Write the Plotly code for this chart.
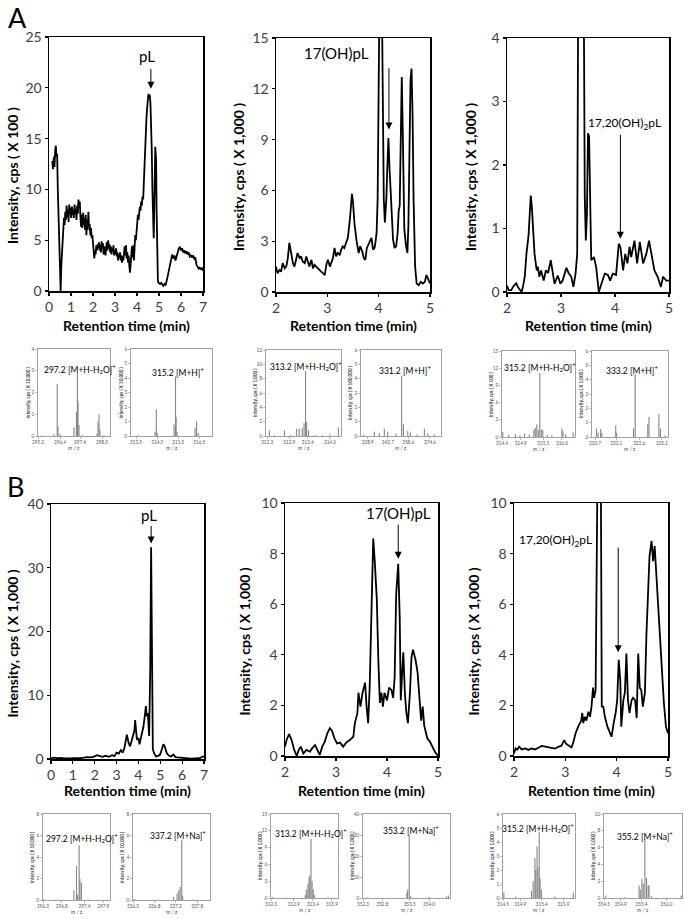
import plotly.graph_objects as go

W, H = 684, 919

# ---------------- Chromatogram data ----------------
a1_t = [0.15,0.18,0.22,0.25,0.28,0.31,0.34,0.37,0.40,0.44,
        0.47,0.50,0.53,0.56,0.60,0.64,0.68,0.71,0.74,0.77,
        0.80,0.83,0.86,0.89,0.92,0.95,0.98,1.01,1.04,1.07,
        1.10,1.13,1.16,1.19,1.22,1.25,1.28,1.31,1.34,1.37,
        1.40,1.43,1.46,1.49,1.52,1.55,1.58,1.61,1.64,1.67,
        1.70,1.73,1.76,1.79,1.82,1.85,1.88,1.91,1.94,1.97,
        2.00,2.03,2.06,2.09,2.12,2.15,2.18,2.21,2.24,2.27,
        2.30,2.33,2.36,2.39,2.42,2.45,2.48,2.51,2.54,2.57,
        2.60,2.63,2.66,2.69,2.72,2.75,2.78,2.81,2.84,2.87,
        2.90,2.93,2.96,2.99,3.02,3.05,3.08,3.11,3.14,3.17,
        3.20,3.23,3.26,3.29,3.32,3.35,3.38,3.41,3.44,3.47,
        3.50,3.53,3.56,3.59,3.62,3.65,3.68,3.71,3.74,3.77,
        3.80,3.83,3.86,3.89,3.92,3.95,3.98,4.01,4.04,4.07,
        4.10,4.13,4.16,4.19,4.22,4.25,4.28,4.31,4.34,4.37,
        4.40,4.43,4.46,4.49,4.52,4.55,4.58,4.61,4.64,4.67,
        4.70,4.73,4.76,4.78,4.80,4.83,4.85,4.87,4.89,4.92,
        4.95,4.98,5.05,5.10,5.15,5.20,5.25,5.30,5.35,5.40,
        5.45,5.50,5.55,5.60,5.65,5.70,5.75,5.80,5.85,5.90,
        5.95,6.00,6.05,6.10,6.15,6.20,6.25,6.30,6.35,6.40,
        6.45,6.50,6.55,6.60,6.65,6.70,6.75,6.80,6.85,6.90,
        6.95,7.00]
a1_i = [12.8,12.0,13.2,12.2,13.8,14.3,13.2,13.5,10.0,6.5,
        3.0,0.5,0.0,2.5,4.5,5.8,7.2,6.5,7.8,7.0,
        8.4,7.3,8.0,6.8,8.5,7.6,8.2,7.2,8.3,7.5,
        8.0,7.2,8.5,7.6,8.1,7.0,8.4,7.6,9.0,8.2,
        8.8,7.2,6.3,7.5,6.2,7.7,6.5,7.2,6.0,7.5,
        5.5,7.0,6.0,7.8,6.3,6.6,5.5,6.2,5.2,5.5,
        4.5,4.0,3.2,4.0,3.6,4.5,4.0,4.6,4.2,4.8,
        4.0,4.5,3.8,4.9,4.2,4.7,3.6,4.4,4.0,3.5,
        4.3,4.8,4.0,5.0,4.2,4.6,3.8,4.4,3.6,4.2,
        3.9,4.5,3.5,4.0,3.6,4.2,3.4,3.8,3.0,3.6,
        3.3,3.8,3.0,3.5,2.8,3.4,3.0,3.6,4.4,3.5,
        4.5,3.2,3.8,2.8,3.5,2.5,1.8,2.6,3.5,4.4,
        3.3,4.5,3.0,4.0,5.5,5.0,6.2,6.8,7.5,7.0,
        7.8,8.3,7.9,8.8,8.4,9.3,9.0,11.0,13.0,15.0,
        15.5,17.0,18.0,18.8,19.4,19.0,19.3,18.5,17.0,14.0,
        10.0,7.0,5.2,7.5,11.5,14.2,13.5,12.8,8.0,3.0,
        1.0,0.8,0.7,0.8,0.6,0.5,0.7,0.6,1.0,1.5,
        2.0,2.6,3.3,3.6,3.2,3.5,3.0,3.6,3.8,4.2,
        4.3,4.0,4.2,3.8,4.0,3.7,3.9,3.6,3.8,3.4,
        3.5,3.3,3.5,3.2,3.3,2.6,2.4,2.2,2.3,2.1,
        2.3,2.0]

a2_t = [2.00,2.03,2.07,2.10,2.13,2.17,2.20,2.23,2.26,2.29,
        2.33,2.36,2.39,2.42,2.46,2.49,2.52,2.56,2.59,2.62,
        2.65,2.69,2.72,2.75,2.78,2.82,2.85,2.88,2.92,2.95,
        2.98,3.01,3.05,3.08,3.11,3.14,3.17,3.20,3.24,3.27,
        3.30,3.33,3.37,3.40,3.44,3.46,3.48,3.50,3.53,3.57,
        3.61,3.64,3.68,3.71,3.74,3.77,3.80,3.83,3.86,3.89,
        3.92,3.94,3.96,3.98,4.00,4.03,4.06,4.08,4.10,4.12,
        4.15,4.17,4.19,4.21,4.23,4.25,4.28,4.31,4.34,4.37,
        4.39,4.41,4.43,4.45,4.47,4.50,4.53,4.56,4.58,4.60,
        4.62,4.64,4.66,4.68,4.71,4.74,4.78,4.82,4.86,4.90,
        4.93,4.96,5.00]
a2_i = [1.5,1.1,1.3,1.2,1.7,1.4,1.5,2.0,2.9,2.3,
        1.7,1.5,2.0,2.3,2.0,2.1,1.8,1.7,2.1,1.8,
        1.5,1.9,1.4,1.6,1.5,1.4,1.3,1.2,1.1,1.0,
        1.6,1.9,1.5,1.7,2.0,2.6,2.1,2.3,2.2,2.5,
        2.7,2.6,2.9,3.2,4.3,5.2,5.8,5.3,4.0,3.0,
        2.3,2.7,2.4,2.0,1.9,2.6,2.8,3.0,3.2,2.5,
        2.6,3.0,3.5,5.5,14.0,22.0,18.0,9.0,5.5,4.1,
        5.5,7.5,9.1,7.4,6.0,5.5,3.1,2.6,2.7,3.5,
        4.8,5.1,10.8,12.7,9.4,3.7,2.8,2.3,4.0,8.0,
        12.5,13.2,10.5,5.5,1.5,0.5,0.4,0.6,0.5,0.6,
        1.0,0.8,0.5]

a3_t = [2.00,2.03,2.08,2.11,2.17,2.20,2.27,2.30,2.33,2.36,
        2.40,2.42,2.44,2.46,2.48,2.51,2.55,2.57,2.60,2.63,
        2.68,2.72,2.76,2.81,2.85,2.88,2.94,2.99,3.03,3.07,
        3.10,3.14,3.19,3.23,3.27,3.30,3.32,3.37,3.42,3.44,
        3.46,3.48,3.50,3.52,3.54,3.56,3.61,3.65,3.70,3.75,
        3.81,3.87,3.91,3.96,4.02,4.07,4.10,4.15,4.19,4.23,
        4.27,4.30,4.33,4.36,4.41,4.46,4.52,4.58,4.63,4.68,
        4.73,4.79,4.85,4.89,4.95,5.00]
a3_i = [0.10,0.03,0.03,0.08,0.14,0.08,0.00,0.10,0.25,0.60,
        0.90,1.20,1.52,1.34,1.10,0.60,0.34,0.40,0.24,0.34,
        0.18,0.34,0.30,0.50,0.29,0.13,0.26,0.13,0.18,0.30,
        0.38,0.30,0.24,0.08,0.29,0.60,5.00,9.00,5.00,1.50,
        0.81,1.23,2.50,2.45,1.34,0.50,0.55,0.40,0.00,0.13,
        0.29,0.27,0.18,0.29,0.27,0.76,0.71,0.34,0.60,0.45,
        0.71,0.55,0.70,0.81,0.45,0.79,0.45,0.60,0.81,0.60,
        0.34,0.24,0.08,0.24,0.18,0.18]

b1_t = [0.00,0.15,0.30,0.45,0.60,0.75,0.90,1.05,1.20,1.35,
        1.50,1.65,1.80,1.95,2.10,2.20,2.35,2.50,2.65,2.80,
        2.90,3.00,3.10,3.20,3.28,3.35,3.42,3.47,3.51,3.55,
        3.62,3.70,3.77,3.82,3.85,3.89,3.93,4.00,4.05,4.10,
        4.17,4.23,4.30,4.34,4.38,4.43,4.49,4.54,4.58,4.62,
        4.66,4.72,4.80,4.90,4.99,5.07,5.14,5.19,5.25,5.30,
        5.40,5.50,5.60,5.70,5.80,6.00,6.20,6.40,6.60,6.80,
        6.95,7.00]
b1_i = [0.10,0.20,0.12,0.18,0.10,0.15,0.10,0.12,0.08,0.15,
        0.20,0.30,0.25,0.35,0.60,0.45,0.35,0.50,0.35,0.60,
        0.45,1.00,0.85,1.40,1.00,1.60,2.60,3.80,3.20,2.50,
        2.00,3.00,3.60,4.50,6.10,4.50,3.00,3.30,2.30,3.10,
        4.30,5.10,7.00,8.30,6.70,7.20,3.60,14.0,33.2,6.0,
        1.5,0.9,0.4,0.5,0.7,1.5,2.3,2.1,1.4,0.9,
        0.5,0.4,0.7,0.3,0.25,0.15,0.10,0.05,0.08,0.12,
        0.40,0.35]

b2_t = [2.00,2.03,2.08,2.13,2.18,2.23,2.27,2.31,2.36,2.42,
        2.49,2.53,2.59,2.64,2.68,2.73,2.78,2.83,2.88,2.92,
        2.97,3.02,3.08,3.14,3.20,3.27,3.34,3.37,3.42,3.44,
        3.48,3.52,3.57,3.60,3.63,3.66,3.70,3.73,3.76,3.80,
        3.83,3.86,3.89,3.92,3.95,4.00,4.04,4.09,4.12,4.15,
        4.18,4.22,4.25,4.27,4.30,4.32,4.35,4.38,4.41,4.45,
        4.48,4.51,4.56,4.60,4.64,4.67,4.70,4.73,4.79,4.84,
        4.89,4.94,5.00]
b2_i = [0.37,0.63,0.87,0.63,0.24,0.00,0.24,0.37,0.10,0.24,
        0.17,0.30,0.43,0.24,0.04,0.37,0.57,0.90,1.10,1.00,
        0.70,0.50,0.53,0.37,0.53,0.63,0.76,1.30,1.70,2.50,
        1.95,2.50,2.90,1.95,1.30,2.70,5.80,8.60,7.70,6.20,
        3.80,2.10,2.50,1.95,2.50,2.20,2.70,2.60,2.30,3.10,
        6.40,7.60,5.40,2.20,3.40,4.10,2.50,1.70,1.30,2.50,
        3.90,4.20,3.80,3.30,2.20,1.40,1.95,1.20,0.70,0.57,
        0.37,0.17,0.00]

b3_t = [2.00,2.03,2.06,2.10,2.15,2.22,2.28,2.34,2.41,2.48,
        2.54,2.61,2.67,2.74,2.80,2.87,2.92,2.98,3.01,3.05,
        3.12,3.15,3.20,3.25,3.31,3.33,3.35,3.38,3.41,3.45,
        3.48,3.51,3.54,3.56,3.59,3.63,3.66,3.69,3.71,3.74,
        3.77,3.82,3.87,3.90,3.95,3.98,4.01,4.04,4.07,4.09,
        4.13,4.16,4.19,4.22,4.25,4.29,4.32,4.36,4.39,4.42,
        4.45,4.48,4.51,4.55,4.58,4.61,4.64,4.68,4.71,4.74,
        4.77,4.81,4.84,4.88,4.92,4.96,5.00]
b3_i = [0.10,0.30,0.25,0.37,0.26,0.30,0.24,0.30,0.26,0.34,
        0.40,0.37,0.34,0.30,0.29,0.37,0.40,0.63,0.50,0.43,
        0.34,0.50,0.90,1.16,1.40,1.70,1.30,1.55,1.40,1.75,
        1.55,1.95,2.70,2.30,2.60,12.0,18.0,12.0,1.95,1.95,
        1.55,1.16,0.90,0.76,1.40,1.70,2.20,3.80,3.00,1.16,
        2.20,2.50,4.05,2.20,1.70,2.20,2.30,2.20,1.50,4.05,
        2.70,2.60,1.95,2.50,4.80,6.40,7.90,8.50,7.70,8.30,
        7.20,6.20,4.80,3.70,2.10,1.16,0.90]

# ---------------- Mass spectra (insets) ----------------
a1l_mz = [295.5,296.1,296.26,296.3,296.4,297.1,297.22,297.27,297.3,297.35,297.5,298.25,298.3,298.35,298.4,298.6]
a1l_v  = [0.03,0.08,2.4,0.45,0.1,0.4,1.1,2.9,1.6,0.5,0.05,0.1,0.65,1.0,0.3,0.05]
a1r_mz = [313.6,314.4,314.46,314.5,315.3,315.37,315.4,315.45,316.3,316.37,316.45]
a1r_v  = [0.05,0.3,1.85,0.2,0.8,4.1,1.3,0.3,0.55,1.0,0.2]
a2l_mz = [312.36,312.5,312.77,312.95,313.1,313.17,313.25,313.3,313.34,313.37,313.42,313.6,313.8,314.0,314.23]
a2l_v  = [0.75,0.1,0.8,0.15,1.0,1.0,1.1,1.8,9.1,2.0,0.8,0.15,0.1,0.2,1.2]
a2r_mz = [326.0,333.8,337.5,341.1,343.6,349.7,353.8,355.1,358.3,360.2,365.0,370.5,373.0,377.8]
a2r_v  = [0.1,0.3,0.2,0.5,0.3,0.15,4.2,0.85,0.35,0.25,0.1,0.5,0.2,0.1]
a3l_mz = [314.42,314.58,314.76,314.88,315.0,315.13,315.25,315.29,315.33,315.37,315.41,315.45,315.49,315.61,315.73,316.0,316.03,316.1,316.3]
a3l_v  = [0.9,0.4,0.5,0.3,0.6,0.4,1.3,1.6,2.2,1.2,11.2,1.3,1.2,0.4,0.3,1.5,1.0,0.5,0.8]
a3r_mz = [330.8,330.9,331.07,331.14,332.06,332.12,333.23,333.34,334.17,334.25,334.9,335.0,335.3]
a3r_v  = [0.6,0.3,0.55,0.3,0.8,0.3,0.6,4.4,0.9,1.4,1.6,0.6,0.1]
b1l_mz = [296.32,296.6,297.12,297.19,297.22,297.26,297.28,297.32,297.5]
b1l_v  = [0.1,0.05,0.9,3.2,0.5,5.1,2.0,1.6,0.05]
b1r_mz = [336.34,337.25,337.33,337.37,337.4,337.44,337.46,337.7]
b1r_v  = [0.1,0.3,0.6,0.9,1.2,5.6,0.4,0.05]
b2l_mz = [312.35,312.7,313.2,313.23,313.27,313.3,313.32,313.35,313.38,313.41,313.44,313.8]
b2l_v  = [0.2,0.1,0.5,1.5,2.5,3.6,4.0,10.6,3.0,1.5,0.5,0.1]
b2r_mz = [352.4,353.43,353.45,353.49,353.52,354.0,354.45,354.5]
b2r_v  = [0.3,2.5,4.0,29.7,0.8,0.5,0.8,1.2]
b3l_mz = [314.52,314.8,315.16,315.2,315.24,315.26,315.29,315.31,315.34,315.36,315.39,315.7,316.13]
b3l_v  = [0.4,0.1,0.5,1.2,2.85,2.0,3.7,2.2,4.7,1.4,0.6,0.1,0.4]
b3r_mz = [354.54,355.0,355.34,355.37,355.41,355.44,355.48,355.52,355.56,355.58,355.64,356.35]
b3r_v  = [0.3,0.1,1.5,1.0,2.3,1.7,7.0,2.4,1.5,1.5,0.2,0.3]

FONT = "Lato"

def fx(px):
    return px / W

def fy(py):
    return 1 - py / H

fig = go.Figure()
layout = dict(width=W, height=H, margin=dict(l=0, r=0, t=0, b=0),
              paper_bgcolor="white", plot_bgcolor="white", showlegend=False,
              font=dict(family=FONT, color="black"))
annotations = []

# ---------------- Main chromatograms ----------------
main = [
    (a1_t, a1_i, (49, 203), (37, 291), [0, 7], [0, 25], 5, "Intensity, cps ( X 100 )", 12, 126, 325),
    (a2_t, a2_i, (276, 430), (38, 292), [2, 5], [0, 15], 3, "Intensity, cps ( X 1,000 )", 238, 353, 325),
    (a3_t, a3_i, (507, 669), (38, 292), [2, 5], [0, 4], 1, "Intensity, cps ( X 1,000 )", 470, 588, 325),
    (b1_t, b1_i, (51, 204), (504, 759), [0, 7], [0, 40], 10, "Intensity, cps ( X 1,000 )", 12, 127, 790),
    (b2_t, b2_i, (285, 438), (503, 756), [2, 5], [0, 10], 2, "Intensity, cps ( X 1,000 )", 244, 361, 790),
    (b3_t, b3_i, (514, 668), (503, 756), [2, 5], [0, 10], 2, "Intensity, cps ( X 1,000 )", 473, 591, 790),
]

for k, (t, v, xp, yp, xr, yr, dt, ytitle, ytx, xtx, xty) in enumerate(main, start=1):
    xa = "x" if k == 1 else f"x{k}"
    ya = "y" if k == 1 else f"y{k}"
    fig.add_trace(go.Scatter(x=t, y=v, mode="lines", xaxis=xa, yaxis=ya,
                             line=dict(color="black", width=1.8), hoverinfo="skip"))
    common = dict(showline=True, linecolor="black", linewidth=1.5, mirror=True,
                  ticks="outside", ticklen=3, tickwidth=1.2, tickcolor="black",
                  tickfont=dict(family=FONT, size=14, color="#404040"),
                  showgrid=False, zeroline=False, automargin=False, fixedrange=True)
    layout["xaxis" if k == 1 else f"xaxis{k}"] = dict(
        domain=[fx(xp[0]), fx(xp[1])], range=xr, dtick=1, tick0=0,
        anchor=ya, **common)
    layout["yaxis" if k == 1 else f"yaxis{k}"] = dict(
        domain=[fy(yp[1]), fy(yp[0])], range=yr, dtick=dt, tick0=0,
        anchor=xa, **common)
    annotations.append(dict(text=f"<b>{ytitle}</b>", x=fx(ytx), y=fy((yp[0] + yp[1]) / 2 + 12),
                            xref="paper", yref="paper", textangle=-90, showarrow=False,
                            font=dict(family=FONT, size=14, color="black"),
                            xanchor="center", yanchor="middle"))
    annotations.append(dict(text="<b>Retention time (min)</b>", x=fx(xtx), y=fy(xty),
                            xref="paper", yref="paper", showarrow=False,
                            font=dict(family=FONT, size=14, color="black"),
                            xanchor="center", yanchor="middle"))

# Peak labels and arrows (data coordinates)
labels = [
    (1, "pL", 4.45, 23.1, 15),
    (2, "17(OH)pL", 3.17, 14.1, 15),
    (3, "17,20(OH)<sub>2</sub>pL", 4.17, 2.65, 12),
    (4, "pL", 4.5, 38.2, 15),
    (5, "17(OH)pL", 4.22, 9.6, 15),
    (6, "17,20(OH)<sub>2</sub>pL", 2.8, 8.5, 12),
]
arrows = [
    (1, 4.63, 22.0, 19.9),
    (2, 4.20, 13.3, 9.6),
    (3, 4.10, 2.5, 0.84),
    (4, 4.58, 36.8, 33.8),
    (5, 4.22, 9.2, 7.8),
    (6, 4.03, 8.3, 4.1),
]
for k, txt, x, y, fs in labels:
    xa = "x" if k == 1 else f"x{k}"
    ya = "y" if k == 1 else f"y{k}"
    annotations.append(dict(text=txt, x=x, y=y, xref=xa, yref=ya, showarrow=False,
                            font=dict(family=FONT, size=fs, color="black"),
                            xanchor="center", yanchor="middle"))
for k, x, y0, y1 in arrows:
    xa = "x" if k == 1 else f"x{k}"
    ya = "y" if k == 1 else f"y{k}"
    annotations.append(dict(text="", x=x, y=y1, ax=x, ay=y0, xref=xa, yref=ya,
                            axref=xa, ayref=ya, showarrow=True, arrowhead=2,
                            arrowsize=1.4, arrowwidth=1, arrowcolor="black", standoff=0))

# Panel letters
annotations.append(dict(text="A", x=fx(17), y=fy(-1), xref="paper", yref="paper", showarrow=False,
                        font=dict(family=FONT, size=27, color="black"), xanchor="center", yanchor="top"))
annotations.append(dict(text="B", x=fx(15), y=fy(468), xref="paper", yref="paper", showarrow=False,
                        font=dict(family=FONT, size=27, color="black"), xanchor="center", yanchor="top"))

# ---------------- Insets ----------------
insets = [
    (a1l_mz, a1l_v, (38, 110), (349, 436), [295.3, 298.9], [295.3, 296.4, 297.4, 298.5], [0, 4], 1,
     "( X 10,000 )", "297.2 [M+H-H<sub>2</sub>O]<sup>+</sup>", (80, 369)),
    (a1r_mz, a1r_v, (131, 212), (349, 436), [313.26, 317.1], [313.5, 314.5, 315.5, 316.5], [0, 6], 1,
     "( X 10,000 )", "315.2 [M+H]<sup>+</sup>", (178, 372)),
    (a2l_mz, a2l_v, (266, 341), (350, 436), [312.27, 314.3], [312.3, 312.9, 313.4, 314.0], [0, 12], 2,
     "( X 1,000 )", "313.2 [M+H-H<sub>2</sub>O]<sup>+</sup>", (306, 366)),
    (a2r_mz, a2r_v, (361, 441), (350, 436), [324.0, 382.7], [328.9, 343.7, 358.6, 374.6], [0, 6], 1,
     "( X 100,000 )", "331.2 [M+H]<sup>+</sup>", (405, 370)),
    (a3l_mz, a3l_v, (502, 575), (351, 437), [314.4, 316.35], [314.4, 314.9, 315.5, 316.0], [0, 15], 3,
     "( X 100 )", "315.2 [M+H-H<sub>2</sub>O]<sup>+</sup>", (540, 367)),
    (a3r_mz, a3r_v, (592, 668), (351, 437), [330.5, 335.5], [330.7, 332.1, 333.6, 335.1], [0, 6], 1,
     "( X 1,000 )", "333.2 [M+H]<sup>+</sup>", (632, 370)),
    (b1l_mz, b1l_v, (43, 110), (814, 900), [296.3, 298.08], [296.3, 296.8, 297.4, 297.9], [0, 8], 2,
     "( X 10,000 )", "297.2 [M+H-H<sub>2</sub>O]<sup>+</sup>", (82, 838)),
    (b1r_mz, b1r_v, (133, 210), (814, 900), [336.3, 338.1], [336.3, 336.8, 337.3, 337.8], [0, 8], 2,
     "( X 10,000 )", "337.2 [M+Na]<sup>+</sup>", (178, 835)),
    (b2l_mz, b2l_v, (271, 338), (814, 898), [312.3, 314.06], [312.3, 312.9, 313.4, 313.9], [0, 15], 3,
     "( X 1,000 )", "313.2 [M+H-H<sub>2</sub>O]<sup>+</sup>", (311, 833)),
    (b2r_mz, b2r_v, (363, 450), (814, 898), [352.3, 354.54], [352.3, 352.8, 353.5, 354.0], [0, 40], 10,
     "( X 1,000 )", "353.2 [M+Na]<sup>+</sup>", (411, 830)),
    (b3l_mz, b3l_v, (503, 575), (814, 898), [314.5, 316.17], [314.5, 314.9, 315.4, 315.9], [0, 6], 1,
     "( X 1,000 )", "315.2 [M+H-H<sub>2</sub>O]<sup>+</sup>", (538, 828)),
    (b3r_mz, b3r_v, (604, 682), (814, 898), [354.5, 356.37], [354.5, 354.9, 355.4, 356.0], [0, 10], 2,
     "( X 1,000 )", "355.2 [M+Na]<sup>+</sup>", (645, 836)),
]

for j, (mz, h, xp, yp, xr, xt, yr, dt, unit, lab, lpos) in enumerate(insets, start=7):
    xs, ys = [], []
    for m, val in zip(mz, h):
        xs += [m, m, None]
        ys += [0, val, None]
    fig.add_trace(go.Scatter(x=xs, y=ys, mode="lines", xaxis=f"x{j}", yaxis=f"y{j}",
                             line=dict(color="#858585", width=1.1), hoverinfo="skip"))
    common = dict(showline=True, linecolor="#8a8a8a", linewidth=0.8, mirror=True,
                  ticks="outside", ticklen=2, tickwidth=0.6, tickcolor="#8a8a8a",
                  tickfont=dict(family=FONT, size=4.7, color="#555555"),
                  showgrid=False, zeroline=False, automargin=False, fixedrange=True)
    layout[f"xaxis{j}"] = dict(domain=[fx(xp[0]), fx(xp[1])], range=xr, tickvals=xt,
                               ticktext=[f"{v:.1f}" for v in xt], anchor=f"y{j}", **common)
    layout[f"yaxis{j}"] = dict(domain=[fy(yp[1]), fy(yp[0])], range=yr, dtick=dt, tick0=0,
                               anchor=f"x{j}", **common)
    annotations.append(dict(text=f"<b>Intensity, cps {unit}</b>", x=fx(xp[0] - 11),
                            y=fy((yp[0] + yp[1]) / 2), xref="paper", yref="paper",
                            textangle=-90, showarrow=False,
                            font=dict(family=FONT, size=4.6, color="#444444"),
                            xanchor="center", yanchor="middle"))
    annotations.append(dict(text="m / z", x=fx((xp[0] + xp[1]) / 2), y=fy(min(yp[1] + 12, H - 4)),
                            xref="paper", yref="paper", showarrow=False,
                            font=dict(family=FONT, size=5, color="#444444"),
                            xanchor="center", yanchor="middle"))
    annotations.append(dict(text=lab, x=fx(lpos[0]), y=fy(lpos[1]), xref="paper", yref="paper",
                            showarrow=False, font=dict(family=FONT, size=8.5, color="black"),
                            xanchor="center", yanchor="middle"))

layout["annotations"] = annotations
fig.update_layout(**layout)
fig.write_html("out.html",
               config={"displayModeBar": False, "staticPlot": True},
               post_script="document.body.style.margin='0';document.body.style.padding='0';"
                           "document.documentElement.style.overflow='hidden';")
